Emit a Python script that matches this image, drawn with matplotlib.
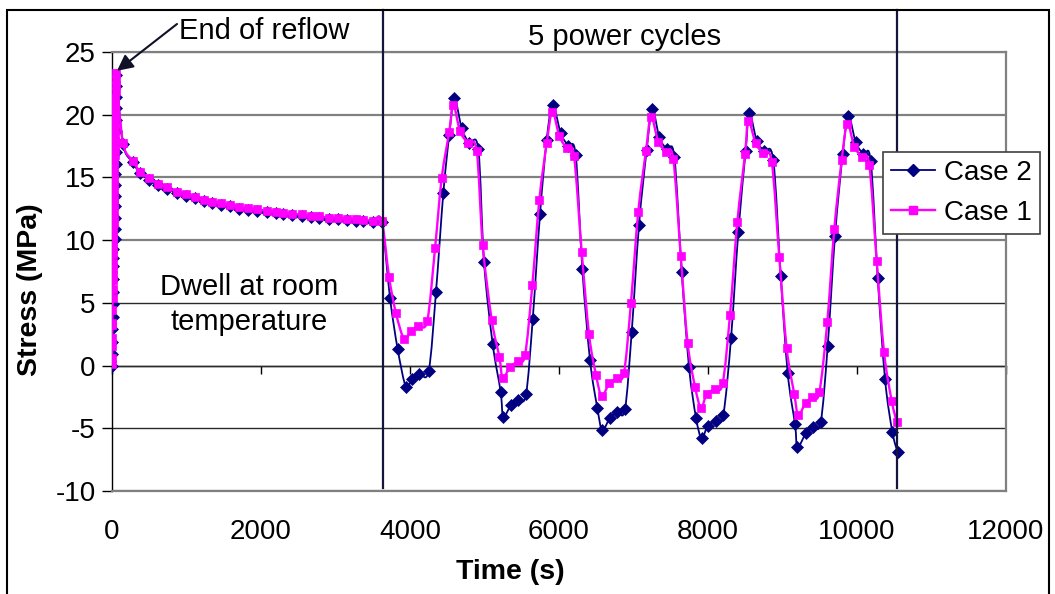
import matplotlib
matplotlib.use("Agg")
import matplotlib.pyplot as plt
from matplotlib.patches import Rectangle, PathPatch
from matplotlib.lines import Line2D
from matplotlib.path import Path

# ---------------------------------------------------------------- data
# Reflow (heating up to the end of reflow)
reflow_time_c1 = [0, 1, 2, 3, 4, 5, 6, 7, 8, 9, 10, 11, 12, 14,
                  16, 17, 18, 19, 21, 22, 23, 24, 26, 27, 28, 29, 31, 32, 33,
                  34, 36, 37, 38, 39, 41, 42, 43, 45, 46, 48, 50, 52, 54]
reflow_stress_c1 = [0.1, 0.6, 1.6, 2.2, 3.2, 3.4, 4.4, 5.4, 6.1, 6.8, 7.2, 7.7,
                    8.2, 8.9,
                    9.3, 9.9, 10.3, 10.9, 11.4, 11.8, 12.4, 12.9, 13.3, 13.9,
                    14.4, 14.8, 15.3, 15.9, 16.3, 16.8, 17.4, 17.9, 18.3, 18.8,
                    19.3, 19.9, 20.4, 20.8, 21.3, 21.9, 22.4, 22.8, 23.3]
reflow_time_c2 = [0, 2, 4, 6, 8, 10, 12, 14, 16, 18, 20,
                  40, 41, 42, 43, 44, 45, 46, 47, 48, 49, 50, 51, 52, 53, 54,
                  55]
reflow_stress_c2 = [0.0, 0.9, 1.9, 2.9, 3.9, 4.9, 5.9, 6.9, 7.9, 8.6, 9.3,
                    10.1, 10.9, 11.8, 12.7, 13.5, 14.4, 15.3, 16.1, 17.0, 17.9,
                    18.7, 19.6, 20.5, 21.4, 22.3, 23.2]

# Dwell at room temperature
dwell_time = [148, 278, 376, 501, 621, 742, 868, 989, 1114, 1239, 1338, 1459,
              1584, 1705, 1830, 1950, 2077, 2201, 2299, 2420, 2546, 2667, 2783,
              2913, 3030, 3158, 3275, 3373, 3499, 3620]
dwell_stress_c1 = [17.75, 16.34, 15.46, 14.93, 14.48, 14.22, 13.86, 13.66,
                   13.47, 13.20, 13.07, 12.94, 12.80, 12.62, 12.55, 12.45,
                   12.35, 12.25, 12.20, 12.09, 12.05, 11.93, 11.90, 11.79,
                   11.76, 11.69, 11.66, 11.63, 11.55, 11.53]
dwell_stress_c2 = [17.65, 16.22, 15.33, 14.80, 14.36, 14.10, 13.75, 13.55,
                   13.36, 13.09, 12.96, 12.83, 12.69, 12.51, 12.44, 12.34,
                   12.24, 12.14, 12.09, 11.98, 11.94, 11.82, 11.79, 11.68,
                   11.65, 11.58, 11.55, 11.52, 11.44, 11.46]

# Five power cycles
cycle_time_c1 = [3718, 3812, 3923, 4013, 4111, 4232, 4336, 4425, 4527, 4581,
                 4671, 4774, 4895, 4976, 5097, 5199, 5244, 5342, 5446, 5544,
                 5642, 5736, 5835, 5910, 6004, 6103, 6201, 6305, 6403, 6497,
                 6573, 6675, 6774, 6872, 6966, 7064, 7168, 7235, 7333, 7436,
                 7534, 7634, 7727, 7826, 7906, 7983, 8094, 8197, 8295, 8393,
                 8497, 8541, 8640, 8742, 8855, 8957, 9056, 9158, 9212, 9311,
                 9400, 9494, 9601, 9695, 9795, 9870, 9964, 10071, 10165, 10264,
                 10362, 10466, 10533]
cycle_stress_c1 = [7.09, 4.17, 2.10, 2.78, 3.18, 3.58, 9.35, 14.93, 18.65,
                   20.78, 18.70, 17.77, 17.11, 9.61, 3.64, 0.71, -0.96, -0.14,
                   0.37, 0.85, 6.43, 13.20, 17.72, 20.24, 18.31, 17.32, 16.71,
                   9.03, 2.50, -0.75, -2.40, -1.41, -1.01, -0.57, 5.01, 12.27,
                   17.13, 19.84, 17.85, 17.05, 16.47, 8.76, 1.78, -1.68, -3.36,
                   -2.26, -1.87, -1.41, 4.03, 11.41, 16.87, 19.52, 17.72, 16.93,
                   16.26, 8.63, 1.38, -2.26, -3.94, -2.96, -2.53, -2.13, 3.45,
                   10.87, 16.39, 19.26, 17.45, 16.61, 15.99, 8.34, 1.11, -2.82,
                   -4.47]
cycle_time_c2 = [3732, 3835, 3946, 4023, 4125, 4251, 4349, 4447, 4527, 4595,
                 4694, 4792, 4917, 4993, 5110, 5217, 5252, 5356, 5454, 5557,
                 5647, 5745, 5835, 5915, 6023, 6125, 6224, 6313, 6416, 6514,
                 6581, 6685, 6783, 6886, 6976, 7074, 7177, 7252, 7346, 7446,
                 7548, 7647, 7745, 7839, 7915, 7996, 8107, 8205, 8309, 8407,
                 8506, 8554, 8654, 8752, 8876, 8976, 9070, 9168, 9201, 9315,
                 9413, 9513, 9607, 9705, 9808, 9883, 9983, 10085, 10184, 10278,
                 10376, 10474, 10546]
cycle_stress_c2 = [5.37, 1.30, -1.73, -1.07, -0.67, -0.41, 5.89, 13.74, 18.4,
                   21.31, 18.92, 17.77, 17.24, 8.28, 1.72, -2.08, -4.07, -3.14,
                   -2.74, -2.29, 3.69, 12.06, 17.99, 20.78, 18.52, 17.51, 16.79,
                   7.70, 0.45, -3.36, -5.13, -4.15, -3.72, -3.46, 2.70, 11.21,
                   17.19, 20.43, 18.20, 17.24, 16.65, 7.44, -0.09, -4.15, -5.80,
                   -4.79, -4.39, -3.94, 2.18, 10.65, 17.13, 20.16, 17.93, 17.11,
                   16.39, 7.14, -0.61, -4.68, -6.49, -5.40, -4.87, -4.52, 1.59,
                   10.36, 16.85, 19.90, 17.80, 16.85, 16.31, 7.01, -1.07, -5.27,
                   -6.91]

series_labels = ["Case 2", "Case 1"]
series_colors = ["#000080", "#FF00FF"]
x_ticks = [0, 2000, 4000, 6000, 8000, 10000, 12000]
y_ticks = [-10, -5, 0, 5, 10, 15, 20, 25]
cycling_start = 3638
cycling_end = 10537
reflow_end = (67, 23.5)

# ---------------------------------------------------------------- figure
plt.rcParams["font.family"] = ["Liberation Sans", "DejaVu Sans"]
plt.rcParams["axes.unicode_minus"] = False

W, H = 1055, 594
fig = plt.figure(figsize=(W / 100, H / 100), dpi=100)
fig.patch.set_facecolor("white")


def fx(px):
    return px / W


def fy(py):
    return 1 - py / H


def smooth_path(xs, ys):
    """Smoothed connecting line through the points (cubic Bezier segments)."""
    pts = list(zip(xs, ys))
    n = len(pts)
    verts = [pts[0]]
    codes = [Path.MOVETO]
    for i in range(n - 1):
        p0 = pts[i - 1] if i > 0 else pts[i]
        p1 = pts[i]
        p2 = pts[i + 1]
        p3 = pts[i + 2] if i + 2 < n else pts[i + 1]
        c1 = (p1[0] + (p2[0] - p0[0]) / 6, p1[1] + (p2[1] - p0[1]) / 6)
        c2 = (p2[0] - (p3[0] - p1[0]) / 6, p2[1] - (p3[1] - p1[1]) / 6)
        verts += [c1, c2, p2]
        codes += [Path.CURVE4] * 3
    return Path(verts, codes)


ax = fig.add_axes([fx(112), fy(491), (1006 - 112) / W, (491 - 52) / H])
ax.set_xlim(0, 12000)
ax.set_ylim(-10, 25)

# horizontal gridlines
dark_grid = {5, 0, -5}
for yv in y_ticks:
    ax.axhline(yv, color="#2a2a2a" if yv in dark_grid else "#808080",
               lw=1.0 if yv in dark_grid else 1.6, zorder=0.5)

# spines
for side in ("top", "right", "bottom"):
    ax.spines[side].set_color("#808080")
    ax.spines[side].set_linewidth(1.6)
ax.spines["left"].set_color("black")
ax.spines["left"].set_linewidth(1.0)

ax.set_yticks(y_ticks)
ax.set_xticks(x_ticks)
ax.tick_params(axis="y", direction="out", length=7.2, width=1.0,
               labelsize=20, pad=4.5, colors="black")
ax.tick_params(axis="x", length=0, labelsize=20, pad=20)

# x-axis line crossing at zero stress, with its tick marks
sec = ax.secondary_xaxis(10 / 35)
sec.set_xticks(x_ticks)
sec.tick_params(axis="x", direction="out", length=5.8, width=1.0,
                labelbottom=False, labeltop=False, colors="black")
sec.spines["bottom"].set_color("black")
sec.spines["bottom"].set_linewidth(1.0)

# series
t_c1 = reflow_time_c1 + dwell_time + cycle_time_c1
s_c1 = reflow_stress_c1 + dwell_stress_c1 + cycle_stress_c1
t_c2 = reflow_time_c2 + dwell_time + cycle_time_c2
s_c2 = reflow_stress_c2 + dwell_stress_c2 + cycle_stress_c2

styles = [
    dict(marker="D", markersize=6.5, lw=1.3),
    dict(marker="s", markersize=6.0, lw=1.7),
]
for (tt, ss), col, st, z in zip([(t_c2, s_c2), (t_c1, s_c1)], series_colors,
                                 styles, (3, 4)):
    ax.add_patch(PathPatch(smooth_path(tt, ss), facecolor="none",
                           edgecolor=col, lw=st["lw"], zorder=z))
    ax.plot(tt, ss, linestyle="none", marker=st["marker"],
            markersize=st["markersize"], markerfacecolor=col,
            markeredgecolor=col, markeredgewidth=0.5, zorder=z + 0.1)

# phase separators
ymin_ax = (491 - 488) / 439
ymax_ax = (491 - 10) / 439
for tv in (cycling_start, cycling_end):
    ax.axvline(tv, ymin=ymin_ax, ymax=ymax_ax, color="#14143c", lw=1.6,
               clip_on=False, zorder=5)

# annotations
ax.annotate("", xy=reflow_end, xycoords="data",
            xytext=(177, H - 24), textcoords="figure pixels",
            arrowprops=dict(arrowstyle="-|>", color="#101028", lw=1.5,
                            mutation_scale=24, shrinkA=0, shrinkB=0),
            annotation_clip=False, zorder=6)
fig.text(fx(179), fy(31), "End of reflow", fontsize=21, ha="left",
         va="center")
fig.text(fx(625), fy(37), "5 power cycles", fontsize=21, ha="center",
         va="center")
fig.text(fx(249.5), fy(287), "Dwell at room", fontsize=21, ha="center",
         va="center")
fig.text(fx(249.5), fy(322), "temperature", fontsize=21, ha="center",
         va="center")

# axis titles
fig.text(fx(30), fy(290), "Stress (MPa)", fontsize=20.5, fontweight="bold",
         rotation=90, ha="center", va="center")
fig.text(fx(510), fy(572), "Time (s)", fontsize=20.5, fontweight="bold",
         ha="center", va="center")

# legend
handles = [
    Line2D([], [], color=c, lw=st["lw"], marker=st["marker"],
           markersize=st["markersize"], markerfacecolor=c, markeredgecolor=c)
    for c, st in zip(series_colors, styles)
]
leg = fig.legend(handles, series_labels, loc="upper left",
                 bbox_to_anchor=(fx(882.7), fy(151.7)), frameon=True,
                 fancybox=False, fontsize=20, handlelength=1.6,
                 handletextpad=0.3, borderpad=0.3, labelspacing=0.5,
                 borderaxespad=0)
leg.get_frame().set_edgecolor("#404040")
leg.get_frame().set_linewidth(1.2)
leg.get_frame().set_alpha(1)
leg.set_zorder(10)

# outer frame
fig.add_artist(Rectangle((fx(7), fy(596)), (1049 - 7) / W, (596 - 10) / H,
                         transform=fig.transFigure, fill=False,
                         edgecolor="black", lw=1.5))

fig.savefig("out.png", dpi=100, facecolor="white")
